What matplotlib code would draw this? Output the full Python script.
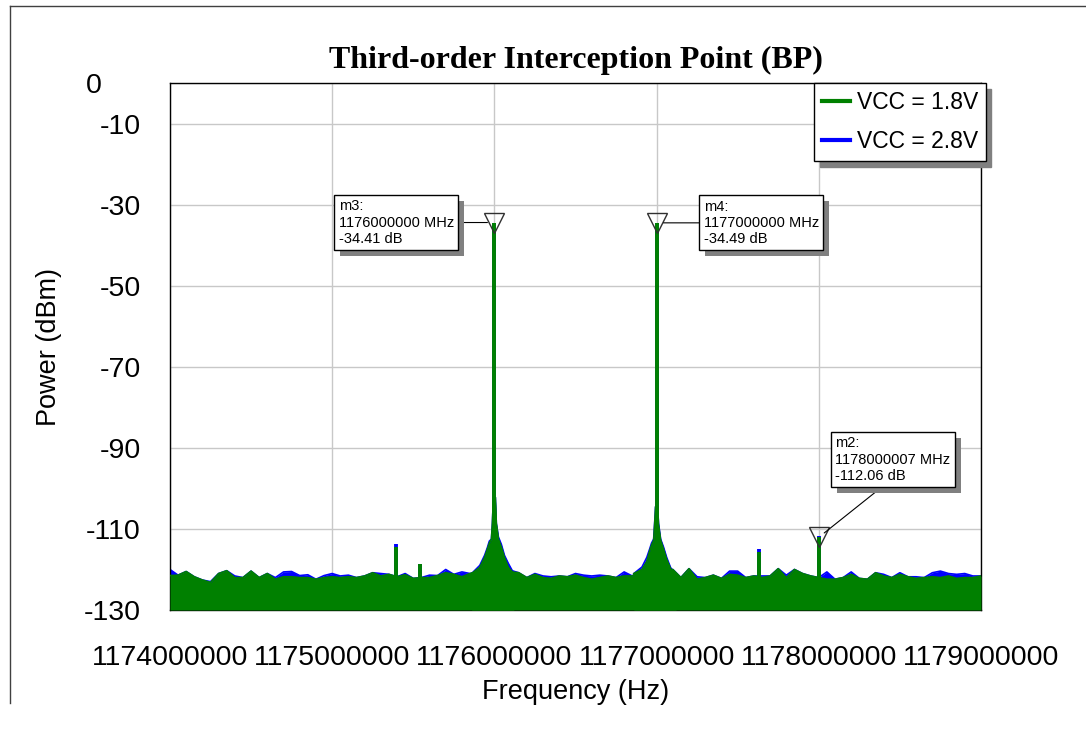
import numpy as np
import matplotlib
matplotlib.use("Agg")
import matplotlib.pyplot as plt
from matplotlib.lines import Line2D
from matplotlib.ticker import FuncFormatter
import matplotlib.patheffects as pe

plt.rcParams["font.family"] = ["Liberation Sans", "DejaVu Sans"]
plt.rcParams["axes.unicode_minus"] = False

GREEN = "#008000"
BLUE = "#0000ff"

# noise floor, sampled every 50 kHz from 1174 MHz to 1179 MHz (dBm)
floor_start_mhz = 1174.0
floor_step_mhz = 0.05
floor_green = [
    -121.5, -121.4, -120.5, -121.8, -122.6, -123.2, -121.0, -120.3, -122.0, -122.0,
    -120.4, -122.0, -121.0, -122.4, -121.8, -121.8, -122.0, -122.0, -122.4, -122.0,
    -121.8, -122.0, -121.8, -122.0, -121.6, -120.8, -121.6, -121.2, -121.8, -121.3,
    -122.2, -122.0, -122.0, -121.5, -120.8, -121.2, -121.8, -121.0, -120.5, -120.6,
    -121.0, -120.2, -120.6, -120.8, -122.0, -121.2, -122.0, -122.2, -121.6, -121.8,
    -121.4, -122.0, -122.4, -122.0, -121.6, -122.0, -121.6, -121.6, -120.4, -120.2,
    -120.6, -120.4, -120.0, -122.0, -119.8, -122.4, -122.0, -121.4, -122.2, -121.2,
    -121.4, -122.0, -121.6, -122.0, -121.6, -119.8, -122.0, -120.0, -121.0, -121.6,
    -122.0, -122.4, -122.4, -122.0, -121.2, -122.2, -122.4, -120.8, -121.6, -122.0,
    -121.2, -121.8, -122.2, -122.0, -121.8, -122.0, -121.6, -122.2, -122.0, -122.0,
    -121.6,
]
floor_blue = [
    -120.0, -121.4, -120.5, -121.8, -122.6, -123.0, -121.0, -120.3, -121.6, -122.0,
    -120.4, -122.0, -121.0, -122.0, -120.6, -120.5, -121.5, -121.3, -122.4, -121.5,
    -121.0, -121.6, -121.4, -122.0, -121.6, -120.8, -121.0, -121.2, -121.8, -121.0,
    -122.2, -122.0, -121.4, -121.5, -120.0, -121.2, -120.6, -121.0, -120.5, -120.6,
    -121.0, -120.2, -120.2, -120.8, -122.0, -121.0, -121.6, -121.8, -121.6, -121.8,
    -121.0, -121.4, -121.6, -121.4, -121.6, -122.0, -120.6, -121.6, -120.2, -120.2,
    -120.6, -120.4, -120.0, -122.0, -119.8, -121.8, -122.0, -121.4, -122.2, -120.4,
    -120.4, -122.0, -121.6, -121.6, -121.6, -119.8, -121.4, -120.0, -121.0, -121.6,
    -122.0, -120.6, -122.4, -122.0, -120.6, -122.2, -122.4, -120.8, -121.2, -122.0,
    -120.8, -121.8, -121.8, -122.0, -120.8, -120.4, -121.0, -121.2, -121.0, -121.6,
    -121.6,
]

# skirts around the two input tones
skirt1_freq = [1175.86, 1175.91, 1175.94, 1175.957, 1175.969, 1175.982, 1175.988, 1175.994,
               1176.006, 1176.012, 1176.025, 1176.043, 1176.062, 1176.086, 1176.12]
skirt1_green = [-121.0, -119.5, -117.0, -115.0, -113.5, -112.5, -108.6, -102.2,
                -102.2, -108.6, -112.5, -114.5, -117.0, -119.5, -121.0]
skirt1_blue = [-121.0, -119.0, -116.5, -114.6, -113.0, -112.5, -108.6, -102.2,
               -102.2, -108.6, -112.0, -113.8, -116.5, -118.5, -121.0]
skirt2_freq = [1176.86, 1176.91, 1176.94, 1176.957, 1176.969, 1176.982, 1176.988, 1176.994,
               1177.006, 1177.012, 1177.025, 1177.043, 1177.062, 1177.086, 1177.12]
skirt2_green = [-121.0, -120.0, -118.0, -115.5, -114.0, -112.8, -109.0, -104.5,
                -104.5, -109.0, -112.8, -115.0, -117.5, -119.8, -121.5]
skirt2_blue = [-121.0, -119.4, -117.0, -115.0, -113.5, -112.5, -108.6, -104.5,
               -104.5, -108.6, -112.5, -114.5, -117.0, -119.5, -121.5]

# tones and spurs (MHz, dBm)
tone_freq = [1176.0, 1177.0]
tone_level = [-34.41, -34.49]
spur_freq = [1175.395, 1175.54, 1177.63, 1178.000007]
spur_green = [-114.4, -118.7, -115.6, -112.06]
spur_blue = [-113.8, -118.7, -115.0, -111.8]

# markers
marker_names = ["m3", "m4", "m2"]
marker_freq_hz = [1176000000, 1177000000, 1178000007]
marker_db = [-34.41, -34.49, -112.06]

x_ticks_hz = [1174000000, 1175000000, 1176000000, 1177000000, 1178000000, 1179000000]
y_ticks = [0, -10, -30, -50, -70, -90, -110, -130]
# the "0" label sits further left in the original export
y_tick_labels = ["0     ", "-10", "-30", "-50", "-70", "-90", "-110", "-130"]

fig = plt.figure(figsize=(10.86, 7.29), dpi=100)
ax = fig.add_axes([0.1565, 0.1632, 0.7468, 0.7229])

floor_freq = floor_start_mhz + floor_step_mhz * np.arange(len(floor_green))


def draw_series(color, floor, s1, s2, spur, z):
    fx = floor_freq * 1e6
    ax.fill_between(fx, -130, floor, color=color, lw=0, zorder=z)
    ax.plot(fx, floor, color=color, lw=1.2, zorder=z)
    for sf, sl in ((skirt1_freq, s1), (skirt2_freq, s2)):
        sx = np.array(sf) * 1e6
        ax.fill_between(sx, -130, sl, color=color, lw=0, zorder=z)
        ax.plot(sx, sl, color=color, lw=1.2, zorder=z)
    ax.vlines(np.array(tone_freq) * 1e6, -130, tone_level, color=color, lw=2.8, zorder=z)
    ax.vlines(np.array(spur_freq) * 1e6, -130, spur, color=color, lw=2.8, zorder=z)


draw_series(BLUE, floor_blue, skirt1_blue, skirt2_blue, spur_blue, 2)
draw_series(GREEN, floor_green, skirt1_green, skirt2_green, spur_green, 3)

ax.set_xlim(1174e6, 1179e6)
ax.set_ylim(-130, 0)
ax.set_xticks(x_ticks_hz)
ax.set_yticks(y_ticks, y_tick_labels)
ax.xaxis.set_major_formatter(FuncFormatter(lambda v, p: f"{int(round(v))}"))
ax.tick_params(length=0, labelsize=20.5)
ax.tick_params(axis="y", pad=21)
ax.tick_params(axis="x", pad=25)
ax.grid(True, color="#c8c8c8", lw=1)
ax.set_axisbelow(True)
for s in ax.spines.values():
    s.set_color("black")
    s.set_linewidth(1)

ax.set_xlabel("Frequency (Hz)", fontsize=19.5, labelpad=6)
ax.set_ylabel("Power (dBm)", fontsize=19.5, labelpad=16)
ax.set_title("Third-order Interception Point (BP)", fontsize=23, fontweight="bold",
             family=["Liberation Serif", "DejaVu Serif"], pad=11)

ax.plot(marker_freq_hz, marker_db, ls="none", marker="v", ms=15, mfc="none",
        mec="#303030", mew=1, zorder=5)

box_specs = [
    dict(xytext=(-29, 0), ha="right", relpos=(1, 0.5)),
    dict(xytext=(34, 0), ha="left", relpos=(0, 0.5)),
    dict(xytext=(12, 56), ha="left", relpos=(0.45, 0)),
]
for name, fhz, db, spec in zip(marker_names, marker_freq_hz, marker_db, box_specs):
    txt = f"{name}:\n{fhz} MHz\n{db:.2f} dB"
    ann = ax.annotate(txt, xy=(fhz, db), xytext=spec["xytext"], textcoords="offset points",
                      ha=spec["ha"], va="center", multialignment="left",
                      fontsize=10.5, linespacing=1.2,
                      bbox=dict(boxstyle="square,pad=0.3", fc="white", ec="black", lw=1),
                      arrowprops=dict(arrowstyle="-", color="black", lw=0.8,
                                      relpos=spec["relpos"], shrinkA=0, shrinkB=5),
                      zorder=6)
    ann.get_bbox_patch().set_path_effects(
        [pe.SimplePatchShadow(offset=(4, -4), shadow_rgbFace="#808080", alpha=1), pe.Normal()])

handles = [Line2D([], [], color=GREEN, lw=3), Line2D([], [], color=BLUE, lw=3)]
leg = ax.legend(handles, ["VCC = 1.8V", "VCC = 2.8V"], loc="upper right",
                bbox_to_anchor=(1.006, 1.0), borderaxespad=0, fontsize=16.5,
                fancybox=False, framealpha=1, edgecolor="black", handlelength=1.2,
                handletextpad=0.3, labelspacing=0.7, borderpad=0.35,
                shadow={"ox": 4, "oy": -4, "color": "#808080", "alpha": 1})
leg.get_frame().set_linewidth(1)
leg.set_zorder(7)

# outer frame of the exported plot window
fig.add_artist(Line2D([0.0092, 0.0092], [0.035, 0.9918], color="#404040", lw=1))
fig.add_artist(Line2D([0.0092, 1.0], [0.9918, 0.9918], color="#404040", lw=1))

fig.savefig("out.png", dpi=100)
